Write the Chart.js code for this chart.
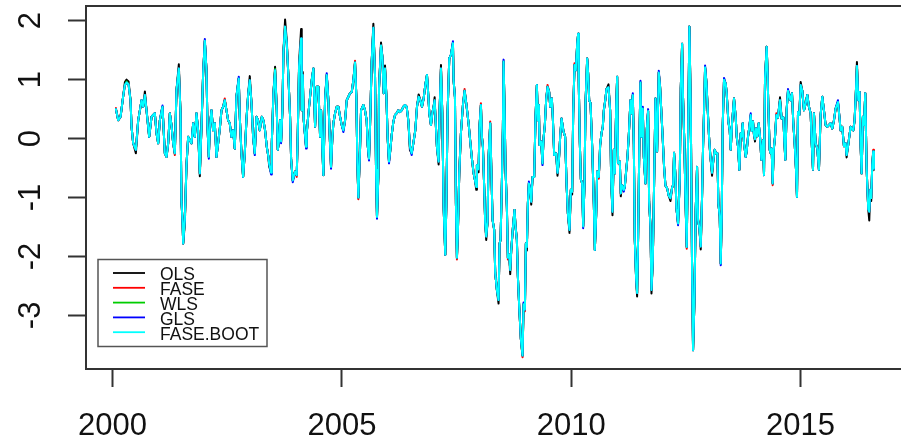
<!DOCTYPE html>
<html>
<head>
<meta charset="utf-8">
<script src="https://cdn.jsdelivr.net/npm/chart.js@4.4.1/dist/chart.umd.min.js"></script>
<style>
  html, body { margin: 0; padding: 0; background: #ffffff; overflow: hidden; }
  canvas { display: block; }
</style>
</head>
<body>
<canvas id="c" width="910" height="443" style="width:910px;height:443px"></canvas>
<script>
// ---- DATA ----
const seriesNames = ["OLS", "FASE", "WLS", "GLS", "FASE.BOOT"];
const xTicks = [2000, 2005, 2010, 2015];
const yTicks = [-3, -2, -1, 0, 1, 2];

const years = [
2000.072, 2000.123, 2000.173, 2000.231, 2000.268, 2000.304, 2000.348, 2000.391, 2000.413, 2000.449,
2000.507, 2000.558, 2000.595, 2000.631, 2000.667, 2000.704, 2000.740, 2000.776, 2000.798, 2000.849,
2000.885, 2000.921, 2000.958, 2000.994, 2001.030, 2001.088, 2001.139, 2001.176, 2001.212, 2001.248,
2001.284, 2001.321, 2001.357, 2001.393, 2001.444, 2001.481, 2001.502, 2001.524, 2001.539, 2001.575,
2001.611, 2001.648, 2001.684, 2001.720, 2001.757, 2001.793, 2001.829, 2001.865, 2001.902, 2001.938,
2001.974, 2002.011, 2002.047, 2002.069, 2002.098, 2002.120, 2002.156, 2002.192, 2002.229, 2002.265,
2002.301, 2002.338, 2002.374, 2002.410, 2002.446, 2002.483, 2002.519, 2002.555, 2002.592, 2002.628,
2002.664, 2002.700, 2002.751, 2002.773, 2002.810, 2002.846, 2002.882, 2002.918, 2002.955, 2002.991,
2003.027, 2003.064, 2003.100, 2003.136, 2003.173, 2003.209,
2003.253, 2003.289, 2003.325, 2003.362, 2003.398, 2003.413, 2003.456, 2003.471, 2003.507, 2003.543,
2003.580, 2003.602, 2003.631, 2003.652, 2003.674, 2003.703, 2003.725, 2003.761, 2003.798, 2003.834,
2003.870, 2003.892, 2003.928, 2003.979, 2004.015, 2004.037, 2004.066, 2004.110, 2004.124, 2004.146,
2004.168, 2004.219, 2004.233, 2004.270, 2004.306, 2004.342, 2004.379, 2004.415, 2004.451, 2004.488,
2004.524, 2004.546, 2004.575, 2004.596, 2004.633, 2004.669, 2004.705, 2004.742, 2004.763, 2004.793,
2004.814, 2004.851, 2004.887, 2004.923, 2004.960, 2004.996, 2005.032, 2005.069, 2005.105, 2005.141,
2005.177, 2005.214, 2005.250, 2005.286, 2005.315, 2005.337, 2005.359, 2005.395, 2005.417, 2005.468,
2005.504, 2005.540, 2005.562, 2005.591, 2005.613, 2005.649, 2005.686, 2005.722, 2005.744, 2005.765,
2005.795, 2005.809, 2005.853, 2005.882, 2005.911, 2005.940, 2005.969, 2005.998, 2006.027, 2006.056,
2006.085, 2006.121, 2006.158, 2006.194, 2006.230, 2006.266, 2006.303, 2006.339, 2006.376, 2006.412,
2006.448, 2006.484, 2006.521, 2006.557,
2006.600, 2006.637, 2006.673, 2006.710, 2006.746, 2006.782, 2006.819, 2006.855, 2006.877, 2006.906,
2006.942, 2006.971, 2007.000, 2007.022, 2007.043, 2007.072, 2007.109, 2007.130, 2007.160, 2007.189,
2007.218, 2007.254, 2007.276, 2007.305, 2007.341, 2007.377, 2007.421, 2007.435, 2007.465, 2007.486,
2007.508, 2007.530, 2007.545, 2007.559, 2007.595, 2007.639, 2007.675, 2007.711, 2007.762, 2007.799,
2007.835, 2007.872, 2007.900, 2007.930, 2007.944, 2007.980, 2008.002, 2008.031, 2008.053, 2008.075,
2008.104, 2008.125, 2008.147, 2008.176, 2008.198, 2008.234, 2008.256, 2008.285, 2008.321, 2008.343,
2008.380, 2008.416, 2008.438, 2008.459, 2008.488, 2008.510, 2008.525, 2008.547, 2008.568, 2008.597,
2008.619, 2008.648, 2008.670, 2008.692, 2008.728, 2008.764, 2008.786, 2008.815, 2008.837, 2008.866,
2008.902, 2008.939, 2008.961, 2008.990, 2009.011, 2009.033, 2009.055, 2009.077, 2009.106, 2009.128,
2009.157, 2009.193, 2009.222, 2009.251, 2009.273, 2009.295, 2009.309, 2009.345, 2009.374, 2009.396,
2009.425, 2009.454, 2009.484, 2009.520, 2009.542, 2009.578, 2009.600, 2009.629, 2009.672, 2009.701,
2009.731, 2009.760, 2009.789, 2009.832, 2009.868,
2009.898, 2009.927, 2009.963, 2009.992, 2010.021, 2010.043, 2010.072, 2010.101, 2010.130, 2010.152,
2010.166, 2010.188, 2010.210, 2010.239, 2010.261, 2010.290, 2010.312, 2010.348, 2010.370, 2010.392,
2010.421, 2010.457, 2010.493, 2010.515, 2010.544, 2010.566, 2010.602, 2010.631, 2010.660, 2010.689,
2010.711, 2010.747, 2010.769, 2010.813, 2010.849, 2010.871, 2010.900, 2010.929, 2010.951, 2010.980,
2011.002, 2011.023, 2011.060, 2011.081, 2011.110, 2011.147, 2011.169, 2011.205, 2011.227, 2011.256,
2011.292, 2011.314, 2011.343, 2011.365, 2011.386, 2011.415, 2011.437, 2011.459, 2011.488, 2011.510,
2011.532, 2011.561, 2011.583, 2011.619, 2011.648, 2011.677, 2011.699, 2011.728, 2011.750, 2011.779,
2011.800, 2011.837, 2011.873, 2011.909, 2011.938, 2011.967, 2011.996, 2012.025, 2012.055, 2012.091,
2012.127, 2012.164, 2012.200, 2012.222, 2012.243, 2012.272, 2012.294, 2012.330, 2012.367, 2012.389,
2012.418, 2012.439, 2012.469, 2012.490, 2012.519, 2012.548, 2012.577, 2012.606, 2012.635, 2012.657,
2012.686, 2012.715, 2012.744, 2012.766, 2012.795, 2012.824, 2012.853, 2012.875, 2012.897, 2012.919,
2012.948, 2012.977, 2013.006, 2013.035, 2013.071, 2013.100, 2013.129, 2013.158,
2013.187, 2013.209, 2013.238, 2013.260, 2013.281, 2013.303, 2013.332, 2013.369, 2013.390, 2013.427,
2013.456, 2013.478, 2013.507, 2013.529, 2013.550, 2013.587, 2013.609, 2013.638, 2013.667, 2013.696,
2013.717, 2013.739, 2013.768, 2013.805, 2013.826, 2013.855, 2013.884, 2013.914, 2013.935, 2013.964,
2013.986, 2014.008, 2014.030, 2014.059, 2014.088, 2014.117, 2014.146, 2014.182, 2014.204, 2014.226,
2014.262, 2014.277, 2014.298, 2014.327, 2014.349, 2014.371, 2014.393, 2014.415, 2014.444, 2014.473,
2014.509, 2014.531, 2014.553, 2014.589, 2014.625, 2014.647, 2014.669, 2014.698, 2014.727, 2014.778,
2014.814, 2014.843, 2014.872, 2014.901, 2014.923, 2014.945, 2014.974, 2015.003, 2015.039, 2015.076,
2015.112, 2015.148, 2015.184, 2015.221, 2015.242, 2015.272, 2015.293, 2015.330, 2015.366, 2015.402,
2015.438, 2015.475, 2015.511, 2015.547, 2015.584, 2015.620, 2015.656, 2015.693, 2015.729, 2015.765,
2015.816, 2015.852, 2015.874, 2015.910, 2015.947, 2015.983, 2016.005, 2016.034, 2016.063, 2016.092,
2016.121, 2016.150, 2016.179, 2016.201, 2016.230, 2016.259, 2016.288, 2016.310, 2016.332, 2016.361,
2016.383, 2016.412, 2016.441, 2016.455, 2016.477, 2016.499, 2016.521, 2016.542, 2016.564, 2016.586,
2016.601
];

const faseBoot = [
0.50, 0.31, 0.37, 0.72, 0.91, 0.95, 0.92, 0.65, 0.20, -0.08,
-0.19, 0.31, 0.48, 0.65, 0.54, 0.74, 0.48, 0.20, 0.03, 0.37,
0.40, 0.43, 0.09, -0.08, 0.31, 0.54, -0.25, -0.31, -0.08, 0.43,
0.23, -0.08, -0.25, 0.82, 1.19, 0.43, -1.07, -1.38, -1.78, -1.38,
-0.45, 0.03, -0.03, -0.08, 0.26, 0.03, 0.43, 0.14, -0.59, 0.20,
1.10, 1.66, 1.16, 0.20, -0.31, 0.20, 0.48, 0.14, 0.26, -0.31,
-0.08, 0.17, 0.48, 0.54, 0.65, 0.48, 0.31, 0.26, 0.03, 0.14,
-0.17, 0.71, 1.02, 0.37, -0.25, -0.65, -0.25, 0.31, 0.74, 0.99,
0.62, 0.03, -0.25, 0.37, 0.31, 0.14,
0.37, 0.31, 0.14, -0.14, -0.31, -0.42, -0.58, -0.08, 0.77, 1.16,
0.48, -0.19, -0.03, 0.31, -0.05, 0.48, 1.47, 1.90, 1.61, 1.05,
0.37, -0.34, -0.71, -0.56, -0.62, 0.06, 1.22, 1.70, 0.48, 1.08,
0.31, -0.14, 0.09, 0.43, 0.71, 0.99, 1.19, 0.20, 0.88, 0.88,
0.03, 0.48, -0.19, -0.62, 0.65, 1.08, 0.65, -0.11, -0.48, 0.03,
0.26, 0.43, 0.54, 0.54, 0.37, 0.23, 0.14, 0.31, 0.65, 0.71,
0.77, 0.79, 0.99, 1.29, 0.71, -0.42, -1.00, -0.19, 0.48, 0.57,
0.48, 0.31, -0.11, -0.34, 0.20, 1.30, 1.88, 1.08, -0.53, -1.33,
-0.62, 0.85, 1.58, 1.39, 0.77, 1.19, 0.74, 0.00, -0.39, -0.19,
0.06, 0.28, 0.40, 0.43, 0.48, 0.45, 0.48, 0.54, 0.57, 0.54,
0.31, -0.14, -0.25, -0.08,
0.14, 0.54, 0.71, 0.65, 0.54, 0.68, 0.91, 1.08, 0.82, 0.43,
0.23, 0.43, 0.54, 0.65, 0.31, -0.14, -0.39, 0.48, 1.19, 0.43,
-1.16, -1.97, -1.16, 0.45, 1.36, 1.42, 1.62, 0.99, 0.70, -1.10,
-2.02, -1.55, -1.04, -0.59, 0.09, 0.57, 0.81, 0.60, 0.26, -0.05,
-0.34, -0.59, -0.70, -0.82, -0.45, -0.52, 0.23, 0.57, 0.03, -0.14,
-0.87, -1.44, -1.66, -1.41, -0.31, 0.26, -0.45, -1.38, -1.55, -2.28,
-2.57, -2.74, -1.78, -1.72, -0.76, 0.17, 1.31, 0.48, -0.51, -1.16,
-2.02, -1.97, -2.23, -1.90, -1.52, -1.21, -1.49, -1.72, -2.34, -2.85,
-3.40, -3.68, -2.81, -2.90, -1.78, -1.84, -1.10, -0.76, -0.87, -1.07,
-0.65, -0.65, 0.37, 0.91, 0.31, 0.57, -0.11, -0.05, -0.42, 0.00,
0.23, 0.66, 0.88, 0.79, 0.54, 0.68, 0.34, -0.28, -0.25, -0.58,
-0.38, 0.04, 0.34, 0.12, 0.03,
-0.76, -1.27, -1.55, -0.87, -0.90, 0.43, 1.25, 1.16, 1.60, 1.78,
0.88, -0.08, -0.69, -0.76, -1.49, -0.76, 0.60, 1.36, 1.10, 0.65,
0.60, -0.13, -1.10, -1.89, -1.30, -0.56, -0.65, -0.11, 0.09, 0.20,
0.48, 0.68, 0.84, 0.87, 0.48, -0.69, -1.24, -0.19, -0.59, 0.51,
1.05, -0.42, -0.39, -0.93, -0.79, -0.87, -0.81, -0.49, -0.31, 0.06,
0.65, 0.43, 0.74, -0.09, -1.71, -2.37, -2.62, -1.66, 0.03, 0.95,
0.03, 0.51, -0.31, -0.76, 0.16, 0.47, -1.07, -1.49, -2.57, -2.06,
-1.13, 0.68, -0.22, 1.12, 0.88, 0.43, -0.01, -0.48, -0.80, -0.84,
-0.97, -1.01, -0.83, -0.79, -0.24, -0.62, -1.18, -1.44, -0.68, 0.85,
1.61, 0.68, -0.14, -0.99, -1.84, -0.03, 1.90, 0.53, -2.17, -3.59,
-2.79, -1.21, -0.48, -1.38, -1.52, -1.83, -0.99, -0.14, 0.48, 1.21,
0.96, 0.48, 0.02, -0.31, -0.58, -0.36, -0.19, -0.25,
-0.25, -1.10, -1.32, -2.12, -1.34, 0.21, 1.00, 0.93, 0.77, 0.29,
0.14, -0.19, 0.26, 0.47, 0.68, 0.36, 0.03, -0.14, -0.53, 0.09,
0.03, 0.26, -0.08, -0.31, -0.21, 0.03, 0.20, 0.40, 0.13, 0.29,
0.06, -0.01, 0.17, 0.04, 0.26, 0.03, -0.36, -0.03, -0.62, 1.02,
1.56, 1.22, 0.57, -0.19, -0.25, -0.17, -0.76, -0.19, 0.03, 0.40,
0.36, 0.52, 0.65, 0.34, 0.36, -0.03, -0.36, 0.49, 0.81, 0.65,
0.77, 0.26, -0.08, -0.52, -0.99, 0.45, 0.40, 0.91, 0.81, 0.48,
0.60, 0.74, 0.54, 0.43, -0.04, -0.53, 0.43, -0.08, -0.17, -0.53,
0.40, 0.71, 0.48, 0.23, 0.20, 0.23, 0.26, 0.17, 0.31, 0.51,
0.62, 0.34, 0.14, 0.20, -0.13, -0.08, -0.28, -0.14, 0.03, 0.20,
0.17, 0.14, 0.31, 0.67, 1.23, 0.65, 0.79, -0.11, -0.59, 0.37,
0.23, 0.77, -0.48, -0.79, -1.20, -1.24, -0.87, -1.01, -0.45, -0.22,
-0.51
];

const ols = [
0.50, 0.31, 0.37, 0.72, 0.96, 1.00, 0.97, 0.65, 0.20, -0.08,
-0.25, 0.31, 0.48, 0.65, 0.54, 0.80, 0.48, 0.20, 0.03, 0.37,
0.40, 0.43, 0.09, -0.08, 0.31, 0.54, -0.25, -0.31, -0.08, 0.43,
0.23, -0.08, -0.25, 0.82, 1.26, 0.43, -1.07, -1.38, -1.78, -1.45,
-0.45, 0.03, -0.03, -0.08, 0.26, 0.03, 0.43, 0.14, -0.64, 0.20,
1.10, 1.66, 1.16, 0.20, -0.31, 0.20, 0.48, 0.14, 0.26, -0.31,
-0.08, 0.17, 0.48, 0.54, 0.65, 0.48, 0.31, 0.26, 0.03, 0.14,
-0.17, 0.71, 1.02, 0.37, -0.25, -0.65, -0.25, 0.31, 0.74, 1.06,
0.62, 0.03, -0.25, 0.37, 0.31, 0.14,
0.37, 0.31, 0.14, -0.14, -0.31, -0.47, -0.58, -0.08, 0.77, 1.22,
0.48, -0.19, -0.03, 0.31, -0.05, 0.48, 1.47, 2.02, 1.66, 1.05,
0.37, -0.34, -0.71, -0.56, -0.62, 0.06, 1.28, 1.86, 0.48, 1.13,
0.31, -0.14, 0.09, 0.43, 0.71, 0.99, 1.19, 0.20, 0.88, 0.88,
0.03, 0.48, -0.19, -0.62, 0.70, 1.08, 0.65, -0.11, -0.48, 0.03,
0.26, 0.43, 0.54, 0.54, 0.37, 0.23, 0.14, 0.31, 0.65, 0.71,
0.77, 0.79, 0.99, 1.29, 0.71, -0.42, -1.00, -0.19, 0.48, 0.57,
0.48, 0.31, -0.11, -0.34, 0.20, 1.30, 1.95, 1.08, -0.53, -1.33,
-0.62, 0.85, 1.63, 1.39, 0.77, 1.24, 0.74, 0.00, -0.39, -0.19,
0.06, 0.28, 0.40, 0.43, 0.48, 0.45, 0.48, 0.54, 0.57, 0.54,
0.31, -0.20, -0.25, -0.08,
0.14, 0.54, 0.75, 0.65, 0.54, 0.68, 0.91, 1.08, 0.82, 0.43,
0.23, 0.43, 0.54, 0.70, 0.31, -0.14, -0.44, 0.48, 1.25, 0.43,
-1.16, -1.97, -1.16, 0.45, 1.36, 1.42, 1.62, 0.99, 0.70, -1.10,
-2.02, -1.55, -1.04, -0.59, 0.09, 0.57, 0.81, 0.60, 0.26, -0.05,
-0.34, -0.59, -0.70, -0.87, -0.45, -0.57, 0.23, 0.57, 0.03, -0.14,
-0.87, -1.44, -1.72, -1.41, -0.31, 0.26, -0.45, -1.38, -1.55, -2.28,
-2.57, -2.80, -1.78, -1.72, -0.76, 0.17, 1.31, 0.48, -0.51, -1.16,
-2.02, -1.97, -2.30, -1.90, -1.52, -1.21, -1.49, -1.72, -2.34, -2.85,
-3.40, -3.68, -2.81, -2.90, -1.78, -1.90, -1.10, -0.76, -0.87, -1.12,
-0.65, -0.65, 0.37, 0.91, 0.31, 0.57, -0.11, -0.05, -0.42, 0.00,
0.23, 0.66, 0.88, 0.79, 0.54, 0.68, 0.34, -0.28, -0.25, -0.63,
-0.38, 0.04, 0.34, 0.12, 0.03,
-0.76, -1.27, -1.60, -0.87, -0.95, 0.43, 1.25, 1.16, 1.60, 1.78,
0.88, -0.08, -0.69, -0.76, -1.49, -0.76, 0.60, 1.36, 1.10, 0.65,
0.60, -0.13, -1.10, -1.89, -1.30, -0.56, -0.65, -0.11, 0.09, 0.20,
0.48, 0.68, 0.84, 0.92, 0.48, -0.69, -1.30, -0.19, -0.59, 0.51,
1.05, -0.42, -0.39, -0.98, -0.79, -0.87, -0.81, -0.49, -0.31, 0.06,
0.65, 0.43, 0.74, -0.09, -1.71, -2.37, -2.68, -1.66, 0.03, 0.95,
0.03, 0.51, -0.31, -0.76, 0.16, 0.47, -1.07, -1.49, -2.63, -2.06,
-1.13, 0.68, -0.22, 1.12, 0.88, 0.43, -0.01, -0.48, -0.80, -0.84,
-0.97, -1.06, -0.83, -0.79, -0.24, -0.62, -1.18, -1.44, -0.68, 0.85,
1.61, 0.68, -0.14, -0.99, -1.84, -0.03, 1.90, 0.53, -2.17, -3.59,
-2.79, -1.21, -0.48, -1.38, -1.52, -1.88, -0.99, -0.14, 0.48, 1.21,
0.96, 0.48, 0.02, -0.31, -0.63, -0.36, -0.19, -0.25,
-0.25, -1.10, -1.32, -2.12, -1.34, 0.21, 1.00, 0.93, 0.77, 0.29,
0.14, -0.19, 0.26, 0.47, 0.68, 0.36, 0.03, -0.14, -0.53, 0.09,
0.03, 0.26, -0.08, -0.31, -0.21, 0.03, 0.20, 0.40, 0.13, 0.29,
0.06, -0.05, 0.17, 0.04, 0.26, 0.03, -0.36, -0.03, -0.62, 1.02,
1.56, 1.22, 0.57, -0.19, -0.25, -0.17, -0.76, -0.19, 0.03, 0.40,
0.36, 0.52, 0.70, 0.34, 0.36, -0.03, -0.36, 0.49, 0.81, 0.65,
0.77, 0.26, -0.08, -0.52, -0.99, 0.45, 0.40, 0.96, 0.81, 0.48,
0.60, 0.74, 0.54, 0.43, -0.04, -0.53, 0.43, -0.08, -0.17, -0.53,
0.40, 0.71, 0.48, 0.23, 0.20, 0.23, 0.26, 0.17, 0.31, 0.51,
0.62, 0.34, 0.14, 0.20, -0.13, -0.08, -0.32, -0.14, 0.03, 0.20,
0.17, 0.14, 0.31, 0.67, 1.30, 0.65, 0.79, -0.11, -0.59, 0.37,
0.23, 0.77, -0.48, -0.79, -1.20, -1.39, -0.87, -1.06, -0.45, -0.22,
-0.53
];

const gls = [
0.50, 0.31, 0.37, 0.72, 0.91, 0.95, 0.92, 0.65, 0.20, -0.08,
-0.19, 0.31, 0.48, 0.65, 0.54, 0.74, 0.48, 0.20, 0.03, 0.37,
0.40, 0.43, 0.09, -0.08, 0.31, 0.56, -0.25, -0.31, -0.08, 0.43,
0.23, -0.08, -0.25, 0.82, 1.19, 0.43, -1.07, -1.38, -1.78, -1.38,
-0.45, 0.03, -0.03, -0.08, 0.26, 0.03, 0.43, 0.14, -0.59, 0.20,
1.10, 1.69, 1.16, 0.20, -0.34, 0.20, 0.48, 0.14, 0.26, -0.31,
-0.08, 0.17, 0.48, 0.54, 0.65, 0.48, 0.31, 0.26, 0.03, 0.14,
-0.17, 0.71, 1.05, 0.37, -0.25, -0.65, -0.25, 0.31, 0.74, 0.99,
0.62, 0.03, -0.28, 0.37, 0.31, 0.14,
0.37, 0.31, 0.14, -0.14, -0.31, -0.42, -0.61, -0.08, 0.77, 1.16,
0.48, -0.19, -0.03, 0.31, -0.08, 0.48, 1.47, 1.90, 1.61, 1.05,
0.37, -0.34, -0.74, -0.56, -0.62, 0.06, 1.22, 1.70, 0.48, 1.08,
0.31, -0.17, 0.09, 0.43, 0.71, 0.99, 1.19, 0.20, 0.88, 0.88,
0.03, 0.48, -0.19, -0.62, 0.65, 1.11, 0.65, -0.11, -0.51, 0.03,
0.26, 0.43, 0.54, 0.54, 0.37, 0.23, 0.11, 0.31, 0.65, 0.71,
0.77, 0.79, 0.99, 1.29, 0.71, -0.42, -1.00, -0.19, 0.48, 0.57,
0.48, 0.31, -0.11, -0.37, 0.20, 1.30, 1.88, 1.08, -0.53, -1.36,
-0.62, 0.85, 1.58, 1.39, 0.77, 1.19, 0.74, 0.00, -0.42, -0.19,
0.06, 0.28, 0.40, 0.43, 0.48, 0.45, 0.48, 0.54, 0.57, 0.54,
0.31, -0.14, -0.28, -0.08,
0.14, 0.54, 0.71, 0.65, 0.54, 0.68, 0.91, 1.08, 0.82, 0.43,
0.23, 0.43, 0.54, 0.65, 0.31, -0.14, -0.39, 0.48, 1.19, 0.43,
-1.16, -1.97, -1.16, 0.45, 1.36, 1.42, 1.65, 0.99, 0.70, -1.10,
-2.02, -1.55, -1.04, -0.59, 0.09, 0.57, 0.81, 0.60, 0.26, -0.05,
-0.34, -0.59, -0.70, -0.82, -0.45, -0.52, 0.23, 0.57, 0.03, -0.14,
-0.87, -1.44, -1.66, -1.41, -0.31, 0.26, -0.45, -1.38, -1.55, -2.28,
-2.57, -2.74, -1.78, -1.72, -0.76, 0.17, 1.34, 0.48, -0.51, -1.16,
-2.02, -1.97, -2.23, -1.90, -1.52, -1.21, -1.49, -1.72, -2.34, -2.85,
-3.40, -3.68, -2.78, -2.90, -1.78, -1.84, -1.10, -0.73, -0.87, -1.07,
-0.65, -0.65, 0.37, 0.91, 0.31, 0.57, -0.11, -0.05, -0.45, 0.00,
0.23, 0.66, 0.88, 0.79, 0.54, 0.68, 0.34, -0.28, -0.25, -0.58,
-0.38, 0.04, 0.34, 0.12, 0.03,
-0.76, -1.27, -1.55, -0.87, -0.90, 0.43, 1.25, 1.16, 1.60, 1.78,
0.88, -0.08, -0.69, -0.76, -1.52, -0.76, 0.60, 1.36, 1.10, 0.65,
0.60, -0.13, -1.10, -1.89, -1.30, -0.56, -0.65, -0.11, 0.09, 0.20,
0.48, 0.68, 0.84, 0.87, 0.48, -0.69, -1.24, -0.19, -0.59, 0.51,
1.05, -0.42, -0.39, -0.93, -0.79, -0.90, -0.81, -0.49, -0.31, 0.06,
0.65, 0.43, 0.77, -0.09, -1.71, -2.37, -2.62, -1.66, 0.03, 0.98,
0.03, 0.54, -0.31, -0.76, 0.16, 0.50, -1.07, -1.49, -2.57, -2.06,
-1.13, 0.68, -0.22, 1.15, 0.88, 0.43, -0.01, -0.48, -0.80, -0.84,
-0.97, -1.01, -0.83, -0.79, -0.24, -0.62, -1.18, -1.47, -0.68, 0.85,
1.61, 0.68, -0.14, -0.99, -1.84, -0.03, 1.90, 0.53, -2.17, -3.59,
-2.79, -1.21, -0.48, -1.38, -1.52, -1.83, -0.99, -0.14, 0.48, 1.24,
0.96, 0.48, 0.02, -0.31, -0.58, -0.36, -0.19, -0.25,
-0.25, -1.10, -1.32, -2.15, -1.34, 0.21, 1.03, 0.93, 0.77, 0.29,
0.14, -0.19, 0.26, 0.47, 0.68, 0.36, 0.03, -0.14, -0.53, 0.09,
0.03, 0.26, -0.08, -0.31, -0.21, 0.03, 0.20, 0.43, 0.13, 0.29,
0.06, -0.01, 0.17, 0.04, 0.26, 0.03, -0.36, -0.03, -0.62, 1.02,
1.56, 1.22, 0.57, -0.19, -0.25, -0.17, -0.76, -0.19, 0.03, 0.40,
0.36, 0.52, 0.65, 0.34, 0.36, -0.03, -0.36, 0.49, 0.84, 0.65,
0.77, 0.26, -0.08, -0.52, -0.99, 0.45, 0.40, 0.91, 0.81, 0.48,
0.60, 0.74, 0.54, 0.43, -0.04, -0.53, 0.43, -0.08, -0.17, -0.53,
0.40, 0.71, 0.48, 0.23, 0.20, 0.23, 0.26, 0.17, 0.31, 0.51,
0.65, 0.34, 0.14, 0.20, -0.13, -0.08, -0.28, -0.14, 0.03, 0.20,
0.17, 0.14, 0.31, 0.67, 1.23, 0.65, 0.79, -0.11, -0.59, 0.37,
0.23, 0.77, -0.48, -0.79, -1.20, -1.24, -0.87, -1.01, -0.45, -0.22,
-0.51
];

const fase = [
0.52, 0.31, 0.37, 0.72, 0.91, 0.95, 0.92, 0.65, 0.20, -0.08,
-0.19, 0.31, 0.48, 0.65, 0.54, 0.74, 0.48, 0.20, 0.03, 0.37,
0.40, 0.43, 0.09, -0.08, 0.31, 0.54, -0.25, -0.31, -0.08, 0.43,
0.23, -0.08, -0.28, 0.82, 1.19, 0.43, -1.07, -1.38, -1.78, -1.38,
-0.45, 0.03, -0.03, -0.08, 0.26, 0.03, 0.43, 0.14, -0.59, 0.20,
1.10, 1.66, 1.16, 0.20, -0.31, 0.20, 0.48, 0.14, 0.26, -0.31,
-0.08, 0.17, 0.48, 0.54, 0.68, 0.48, 0.31, 0.26, 0.03, 0.14,
-0.17, 0.71, 1.02, 0.37, -0.25, -0.65, -0.25, 0.31, 0.74, 0.99,
0.62, 0.03, -0.25, 0.37, 0.31, 0.14,
0.37, 0.31, 0.14, -0.14, -0.31, -0.42, -0.58, -0.08, 0.77, 1.16,
0.48, -0.19, -0.03, 0.31, -0.05, 0.48, 1.47, 1.90, 1.61, 1.05,
0.37, -0.34, -0.71, -0.56, -0.65, 0.06, 1.22, 1.70, 0.48, 1.08,
0.31, -0.14, 0.09, 0.43, 0.71, 0.99, 1.19, 0.20, 0.88, 0.88,
0.03, 0.48, -0.19, -0.62, 0.65, 1.08, 0.65, -0.14, -0.48, 0.03,
0.26, 0.43, 0.54, 0.54, 0.37, 0.23, 0.14, 0.31, 0.65, 0.71,
0.77, 0.79, 0.99, 1.32, 0.71, -0.42, -1.03, -0.19, 0.48, 0.57,
0.48, 0.31, -0.11, -0.34, 0.20, 1.30, 1.88, 1.08, -0.53, -1.33,
-0.65, 0.85, 1.58, 1.39, 0.77, 1.19, 0.74, 0.00, -0.39, -0.19,
0.06, 0.28, 0.40, 0.43, 0.48, 0.45, 0.48, 0.54, 0.57, 0.54,
0.31, -0.14, -0.25, -0.08,
0.14, 0.54, 0.71, 0.65, 0.54, 0.68, 0.91, 1.08, 0.82, 0.43,
0.23, 0.43, 0.54, 0.65, 0.31, -0.14, -0.39, 0.48, 1.19, 0.43,
-1.16, -1.97, -1.16, 0.45, 1.36, 1.42, 1.62, 0.99, 0.70, -1.10,
-2.05, -1.55, -1.04, -0.59, 0.09, 0.57, 0.84, 0.60, 0.26, -0.05,
-0.34, -0.59, -0.70, -0.82, -0.45, -0.52, 0.23, 0.60, 0.03, -0.14,
-0.87, -1.44, -1.66, -1.41, -0.31, 0.29, -0.45, -1.38, -1.55, -2.28,
-2.57, -2.74, -1.78, -1.72, -0.76, 0.17, 1.31, 0.48, -0.51, -1.16,
-2.05, -1.97, -2.23, -1.90, -1.52, -1.21, -1.49, -1.72, -2.34, -2.85,
-3.40, -3.71, -2.81, -2.93, -1.78, -1.84, -1.10, -0.76, -0.87, -1.07,
-0.65, -0.65, 0.37, 0.91, 0.31, 0.57, -0.11, -0.05, -0.42, 0.00,
0.23, 0.66, 0.91, 0.79, 0.54, 0.68, 0.34, -0.28, -0.25, -0.58,
-0.38, 0.04, 0.34, 0.12, 0.03,
-0.76, -1.27, -1.55, -0.87, -0.90, 0.43, 1.28, 1.16, 1.60, 1.78,
0.88, -0.08, -0.69, -0.76, -1.49, -0.76, 0.60, 1.36, 1.10, 0.65,
0.60, -0.13, -1.10, -1.89, -1.30, -0.56, -0.68, -0.11, 0.09, 0.20,
0.48, 0.68, 0.84, 0.87, 0.48, -0.69, -1.24, -0.19, -0.59, 0.51,
1.05, -0.42, -0.39, -0.93, -0.79, -0.87, -0.81, -0.49, -0.31, 0.06,
0.65, 0.43, 0.74, -0.09, -1.71, -2.37, -2.62, -1.66, 0.03, 0.95,
0.03, 0.51, -0.31, -0.76, 0.16, 0.47, -1.07, -1.49, -2.57, -2.06,
-1.13, 0.68, -0.22, 1.12, 0.88, 0.43, -0.01, -0.48, -0.80, -0.84,
-0.97, -1.01, -0.83, -0.79, -0.24, -0.62, -1.18, -1.44, -0.68, 0.85,
1.61, 0.68, -0.14, -0.99, -1.87, -0.03, 1.90, 0.53, -2.17, -3.59,
-2.79, -1.21, -0.48, -1.38, -1.52, -1.83, -0.99, -0.14, 0.48, 1.21,
0.96, 0.48, 0.02, -0.31, -0.58, -0.36, -0.19, -0.25,
-0.25, -1.10, -1.32, -2.12, -1.34, 0.21, 1.00, 0.93, 0.77, 0.29,
0.14, -0.19, 0.26, 0.47, 0.68, 0.36, 0.03, -0.14, -0.53, 0.09,
0.03, 0.26, -0.08, -0.31, -0.21, 0.03, 0.20, 0.40, 0.13, 0.29,
0.06, -0.01, 0.17, 0.04, 0.26, 0.03, -0.36, -0.03, -0.62, 1.02,
1.56, 1.22, 0.57, -0.19, -0.25, -0.17, -0.79, -0.19, 0.03, 0.43,
0.36, 0.52, 0.65, 0.34, 0.36, -0.03, -0.36, 0.49, 0.81, 0.65,
0.77, 0.26, -0.08, -0.52, -0.99, 0.45, 0.40, 0.91, 0.81, 0.48,
0.60, 0.74, 0.54, 0.43, -0.04, -0.53, 0.43, -0.08, -0.17, -0.53,
0.40, 0.71, 0.48, 0.23, 0.20, 0.23, 0.26, 0.17, 0.31, 0.51,
0.62, 0.34, 0.14, 0.20, -0.13, -0.08, -0.28, -0.14, 0.03, 0.20,
0.17, 0.14, 0.31, 0.67, 1.23, 0.65, 0.79, -0.11, -0.59, 0.37,
0.23, 0.77, -0.48, -0.79, -1.20, -1.24, -0.87, -1.01, -0.45, -0.19,
-0.51
];

const wls = [
0.50, 0.31, 0.37, 0.72, 0.91, 0.97, 0.92, 0.65, 0.20, -0.08,
-0.19, 0.31, 0.48, 0.65, 0.54, 0.74, 0.48, 0.20, 0.03, 0.37,
0.40, 0.43, 0.09, -0.08, 0.31, 0.54, -0.25, -0.31, -0.08, 0.43,
0.23, -0.08, -0.25, 0.82, 1.19, 0.43, -1.07, -1.38, -1.78, -1.38,
-0.45, 0.03, -0.03, -0.08, 0.26, 0.03, 0.43, 0.14, -0.59, 0.20,
1.10, 1.66, 1.16, 0.20, -0.31, 0.20, 0.48, 0.14, 0.26, -0.31,
-0.08, 0.17, 0.48, 0.54, 0.65, 0.48, 0.31, 0.26, 0.03, 0.14,
-0.17, 0.71, 1.02, 0.37, -0.25, -0.65, -0.25, 0.31, 0.74, 0.99,
0.62, 0.03, -0.25, 0.37, 0.31, 0.14,
0.37, 0.31, 0.14, -0.14, -0.31, -0.42, -0.58, -0.08, 0.77, 1.18,
0.48, -0.19, -0.03, 0.31, -0.05, 0.48, 1.47, 1.90, 1.61, 1.05,
0.37, -0.34, -0.71, -0.56, -0.62, 0.06, 1.22, 1.70, 0.48, 1.08,
0.31, -0.14, 0.09, 0.43, 0.71, 0.99, 1.19, 0.20, 0.88, 0.88,
0.03, 0.48, -0.19, -0.62, 0.65, 1.08, 0.65, -0.11, -0.48, 0.03,
0.26, 0.43, 0.54, 0.54, 0.37, 0.23, 0.14, 0.31, 0.65, 0.71,
0.77, 0.79, 0.99, 1.29, 0.71, -0.42, -1.00, -0.19, 0.48, 0.57,
0.48, 0.31, -0.11, -0.34, 0.20, 1.30, 1.88, 1.08, -0.53, -1.33,
-0.62, 0.85, 1.58, 1.39, 0.77, 1.19, 0.74, 0.00, -0.39, -0.19,
0.06, 0.28, 0.40, 0.43, 0.48, 0.45, 0.48, 0.54, 0.57, 0.54,
0.31, -0.14, -0.25, -0.08,
0.14, 0.54, 0.71, 0.65, 0.54, 0.68, 0.91, 1.08, 0.82, 0.43,
0.23, 0.43, 0.54, 0.65, 0.31, -0.14, -0.39, 0.48, 1.19, 0.43,
-1.16, -1.97, -1.16, 0.45, 1.36, 1.42, 1.62, 0.99, 0.70, -1.10,
-2.02, -1.55, -1.04, -0.59, 0.09, 0.57, 0.81, 0.60, 0.26, -0.05,
-0.34, -0.59, -0.70, -0.82, -0.45, -0.52, 0.23, 0.57, 0.03, -0.14,
-0.87, -1.44, -1.66, -1.41, -0.31, 0.26, -0.45, -1.38, -1.55, -2.28,
-2.57, -2.74, -1.78, -1.72, -0.76, 0.17, 1.31, 0.48, -0.51, -1.16,
-2.02, -1.97, -2.23, -1.90, -1.52, -1.21, -1.49, -1.72, -2.34, -2.85,
-3.40, -3.68, -2.81, -2.90, -1.78, -1.84, -1.10, -0.76, -0.87, -1.07,
-0.65, -0.65, 0.37, 0.91, 0.31, 0.57, -0.11, -0.05, -0.42, 0.00,
0.23, 0.66, 0.88, 0.79, 0.54, 0.68, 0.34, -0.28, -0.25, -0.58,
-0.38, 0.04, 0.34, 0.12, 0.03,
-0.76, -1.27, -1.55, -0.87, -0.90, 0.43, 1.25, 1.16, 1.60, 1.78,
0.88, -0.08, -0.69, -0.76, -1.49, -0.76, 0.60, 1.36, 1.10, 0.65,
0.60, -0.13, -1.10, -1.89, -1.30, -0.56, -0.65, -0.11, 0.09, 0.20,
0.48, 0.68, 0.84, 0.87, 0.48, -0.69, -1.24, -0.19, -0.59, 0.51,
1.05, -0.42, -0.39, -0.93, -0.79, -0.87, -0.81, -0.49, -0.31, 0.06,
0.65, 0.43, 0.74, -0.09, -1.71, -2.37, -2.62, -1.66, 0.03, 0.95,
0.03, 0.51, -0.31, -0.76, 0.16, 0.47, -1.07, -1.49, -2.57, -2.06,
-1.13, 0.68, -0.22, 1.12, 0.88, 0.43, -0.01, -0.48, -0.80, -0.84,
-0.97, -1.01, -0.83, -0.79, -0.24, -0.62, -1.18, -1.44, -0.68, 0.85,
1.61, 0.68, -0.14, -0.99, -1.84, -0.03, 1.90, 0.53, -2.17, -3.59,
-2.79, -1.21, -0.48, -1.38, -1.52, -1.83, -0.99, -0.14, 0.48, 1.21,
0.96, 0.48, 0.02, -0.31, -0.58, -0.36, -0.19, -0.25,
-0.25, -1.10, -1.32, -2.12, -1.34, 0.21, 1.00, 0.93, 0.77, 0.29,
0.14, -0.19, 0.26, 0.47, 0.68, 0.36, 0.03, -0.14, -0.53, 0.09,
0.03, 0.26, -0.08, -0.31, -0.21, 0.03, 0.20, 0.40, 0.13, 0.29,
0.06, -0.01, 0.17, 0.04, 0.26, 0.03, -0.36, -0.03, -0.62, 1.02,
1.56, 1.22, 0.57, -0.19, -0.25, -0.17, -0.76, -0.19, 0.03, 0.40,
0.36, 0.52, 0.65, 0.34, 0.36, -0.03, -0.36, 0.49, 0.81, 0.65,
0.77, 0.26, -0.08, -0.52, -0.99, 0.45, 0.40, 0.91, 0.81, 0.48,
0.60, 0.74, 0.54, 0.43, -0.04, -0.53, 0.43, -0.08, -0.17, -0.53,
0.40, 0.71, 0.48, 0.23, 0.20, 0.23, 0.26, 0.17, 0.31, 0.51,
0.62, 0.34, 0.14, 0.20, -0.13, -0.08, -0.28, -0.14, 0.03, 0.20,
0.17, 0.14, 0.31, 0.67, 1.23, 0.65, 0.79, -0.11, -0.59, 0.37,
0.23, 0.77, -0.48, -0.79, -1.20, -1.24, -0.87, -1.01, -0.45, -0.22,
-0.51
];

// ---- STYLE ----
const seriesColors = ["#000000", "#FF0000", "#00CD00", "#0000FF", "#00FFFF"];
const seriesValues = [ols, fase, wls, gls, faseBoot];
const FONT = "'Liberation Sans', Arial, Helvetica, sans-serif";

const toPoints = arr => years.map((x, i) => ({ x: x, y: arr[i] }));

const datasets = seriesNames.map((name, k) => ({
  label: name,
  data: toPoints(seriesValues[k]),
  borderColor: seriesColors[k],
  backgroundColor: seriesColors[k],
  borderWidth: 2,
  pointRadius: 0,
  pointHoverRadius: 0,
  tension: 0,
  fill: false,
  borderJoinStyle: 'round',
  borderCapStyle: 'round',
  order: 5 - k   // FASE.BOOT drawn on top, like in the reference
}));

const framePlugin = {
  id: 'rframe',
  afterDraw(chart) {
    const ctx = chart.ctx;
    const a = chart.chartArea;
    ctx.save();
    // plot box
    ctx.strokeStyle = '#333333';
    ctx.lineWidth = 2;
    ctx.strokeRect(a.left, a.top, a.right - a.left, a.bottom - a.top);

    // legend box (lower left inside the plot)
    const lx = a.left + 12, ly = a.top + 253.5, lw = 169, lh = 87;
    ctx.fillStyle = '#ffffff';
    ctx.fillRect(lx, ly, lw, lh);
    ctx.strokeStyle = '#555555';
    ctx.lineWidth = 1.5;
    ctx.strokeRect(lx, ly, lw, lh);
    ctx.font = '17.5px ' + FONT;
    ctx.textBaseline = 'middle';
    ctx.textAlign = 'left';
    seriesNames.forEach((name, k) => {
      const yy = ly + 13.5 + k * 14.8;
      ctx.strokeStyle = seriesColors[k];
      ctx.lineWidth = 1.8;
      ctx.beginPath();
      ctx.moveTo(lx + 15, yy);
      ctx.lineTo(lx + 47, yy);
      ctx.stroke();
      ctx.fillStyle = '#111111';
      ctx.fillText(name, lx + 62, yy + 2.5);
    });
    ctx.restore();
  }
};

new Chart(document.getElementById('c'), {
  type: 'line',
  data: { datasets: datasets },
  options: {
    responsive: false,
    animation: false,
    devicePixelRatio: 1,
    events: [],
    layout: { padding: { top: 6, right: 4, left: 0, bottom: 0 } },
    plugins: { legend: { display: false }, tooltip: { enabled: false } },
    scales: {
      x: {
        type: 'linear',
        min: 1999.42,
        max: 2017.30,
        afterBuildTicks: s => { s.ticks = xTicks.map(v => ({ value: v })); },
        afterFit: s => { s.height = 74; s.paddingLeft = 0; s.paddingRight = 0; },
        grid: { drawOnChartArea: false, drawTicks: true, tickLength: 18, tickWidth: 2, tickColor: '#333333' },
        border: { display: false },
        ticks: {
          font: { family: FONT, size: 31 },
          color: '#111111',
          padding: 21,
          maxRotation: 0,
          minRotation: 0,
          autoSkip: false,
          callback: v => String(v)
        }
      },
      y: {
        type: 'linear',
        min: -3.91,
        max: 2.25,
        afterBuildTicks: s => { s.ticks = yTicks.map(v => ({ value: v })); },
        afterFit: s => { s.width = 86; s.paddingTop = 0; s.paddingBottom = 0; },
        grid: { drawOnChartArea: false, drawTicks: true, tickLength: 18, tickWidth: 2, tickColor: '#333333' },
        border: { display: false },
        ticks: {
          font: { family: FONT, size: 31 },
          color: '#111111',
          padding: 23,
          minRotation: 90,
          maxRotation: 90,
          crossAlign: 'center',
          autoSkip: false,
          callback: v => String(v)
        }
      }
    }
  },
  plugins: [framePlugin]
});
</script>
</body>
</html>
